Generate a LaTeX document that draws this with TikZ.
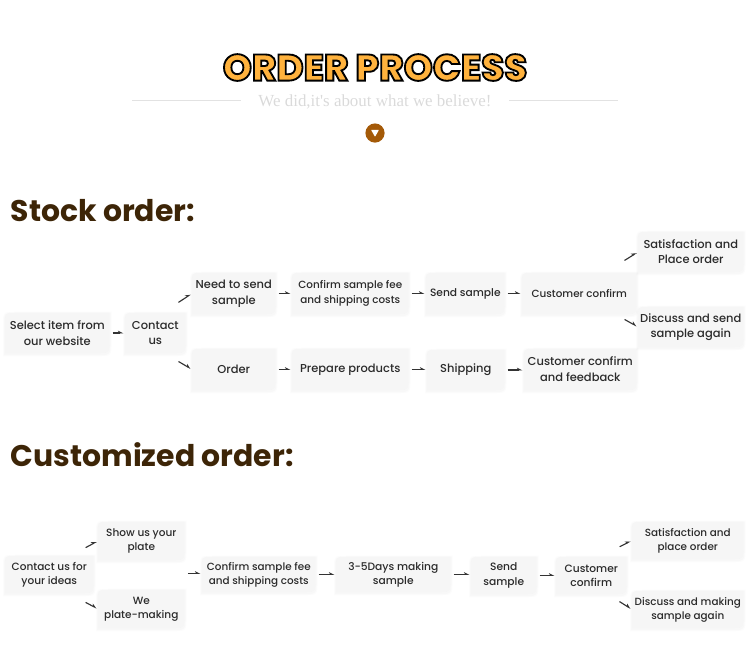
\documentclass[tikz,border=0pt]{standalone}
\usepackage{fontspec}
\usetikzlibrary{arrows.meta,backgrounds,calc}
\setmainfont{Poppins}
\newfontfamily\labfont{Poppins Medium}
\newfontfamily\headfont{Poppins}[BoldFont=Poppins Bold]
\newfontfamily\titlefont{Poppins ExtraBold}[FakeBold=5]
\newfontfamily\subfont{Liberation Serif}
\definecolor{boxfill}{HTML}{F6F6F6}
\definecolor{heading}{HTML}{3D2507}
\definecolor{dotbrown}{HTML}{A45A08}
\definecolor{rulegrey}{HTML}{E2E2E2}
\definecolor{subgrey}{HTML}{DADADA}
\definecolor{lab}{HTML}{2B2B2B}
\definecolor{arrowc}{HTML}{333333}
\tikzset{
  x=0.75pt,y=-0.75pt,
  conn/.style={draw=arrowc,line width=0.85pt,shorten <=2.2pt,shorten >=1.2pt,-{Stealth[harpoon,length=3.6pt,width=3.6pt]}},
  lab/.style={inner sep=0pt,text=lab,align=center},
  headtxt/.style={inner sep=0pt,anchor=base west,text=heading,font=\headfont\bfseries\fontsize{22.4pt}{28pt}\selectfont},
  rule/.style={draw=rulegrey,line width=1pt}
}
% rounded-corner box outline, grown by o and moved by d
\newcommand{\bshape}[3]{($(#1.north east)+(#2,-#2+#3)$) -- ($(#1.south east)+(#2,-13+#3)$) .. controls ($(#1.south east)+(#2,#2+#3)$) .. ($(#1.south east)+(-13,#2+#3)$) -- ($(#1.south west)+(-#2,#2+#3)$) -- ($(#1.north west)+(-#2,11+#3)$) .. controls ($(#1.north west)+(-#2,-#2+#3)$) .. ($(#1.north west)+(11,-#2+#3)$) -- cycle}
% name, x1,y1,x2,y2, size(pt), leading(pt), text
\newcommand{\bx}[8]{%
  \pgfmathsetmacro{\bw}{(#4-#2)*0.75}\pgfmathsetmacro{\bh}{(#5-#3)*0.75}%
  \node[lab,minimum width=\bw pt,minimum height=\bh pt,font=\labfont\fontsize{#6pt}{#7pt}\selectfont] (#1) at ({(#2+#4)/2+0.3},{(#3+#5)/2}) {#8};%
  \begin{scope}[on background layer]
    \fill[black,opacity=0.012] \bshape{#1}{2}{1};
    \fill[black,opacity=0.015] \bshape{#1}{1}{1};
    \fill[boxfill] \bshape{#1}{0}{0};
  \end{scope}%
}
\newcommand{\hc}[2]{\draw[conn] (#1.east) -- (#1.east -| #2.west);}
\begin{document}
\begin{tikzpicture}
\useasboundingbox (0,0) rectangle (750,669);
% header
\node[inner sep=0pt,font=\titlefont\fontsize{27.8pt}{30pt}\selectfont] (title) at (375,67.5) {\special{pdf:bcolor [1 0.70 0.24] [0 0 0]}ORDER PROCESS\special{pdf:ecolor}};
\node[inner sep=0pt,text=subgrey,font=\subfont\fontsize{12.7pt}{16pt}\selectfont] (sub) at (375,101.5) {We did,it's about what we believe!};
\coordinate (ruleA) at (132,100.5);\coordinate (ruleB) at (241,100.5);
\coordinate (ruleC) at (509,100.5);\coordinate (ruleD) at (618,100.5);
\draw[rule] (ruleA) -- (ruleB);
\draw[rule] (ruleC) -- (ruleD);
\node[circle,fill=dotbrown,minimum size=14.4pt,inner sep=0pt] (dot) at (375,133) {};
\fill[white,rounded corners=0.4pt] ($(dot)+(-4,-3.2)$) -- ($(dot)+(4,-3.2)$) -- ($(dot)+(0,3.8)$) -- cycle;
% headings
\node[headtxt] (stock) at (10.5,221) {Stock order:};
\node[headtxt] (custom) at (10.5,466) {Customized order:};
% stock boxes
\bx{select}{5}{313}{109}{353}{8.6}{11.8}{Select item from\\our website}
\bx{contact}{125}{313}{185}{353}{8.6}{11.6}{Contact\\us}
\bx{need}{192}{273}{275}{314}{8.6}{12}{Need to send\\sample}
\bx{order}{192}{349}{275}{390}{8.6}{11.6}{Order}
\bx{confirmA}{292}{273}{408}{314}{7.8}{11.4}{Confirm sample fee\\and shipping costs}
\bx{prepare}{292}{349}{408}{390}{8.6}{11.6}{Prepare products}
\bx{sendA}{426}{273}{504}{314}{8}{11.4}{Send sample}
\bx{shipping}{427}{350}{504}{390}{8.6}{11.6}{Shipping}
\bx{custA}{522}{273}{636}{314}{7.8}{11.4}{Customer confirm}
\bx{custB}{524}{349}{636}{390}{8.6}{12}{Customer confirm\\and feedback}
\bx{satA}{638}{232}{743}{272}{8.6}{11.4}{Satisfaction and\\Place order}
\bx{discA}{638}{307}{743}{347}{8.6}{11.4}{Discuss and send\\sample again}
% customized boxes
\bx{contactB}{5}{556}{93}{593}{7.9}{10.6}{Contact us for\\your ideas}
\bx{show}{98}{522}{184}{560}{7.9}{10.6}{Show us your\\plate}
\bx{we}{98}{590}{184}{628}{7.9}{10.6}{We\\plate-making}
\bx{confirmB}{202}{557}{315}{592}{7.8}{10.6}{Confirm sample fee\\and shipping costs}
\bx{days}{336}{557}{450}{592}{8}{10.6}{3-5Days making\\sample}
\bx{sendB}{471}{557}{536}{594}{8}{10.6}{Send\\sample}
\bx{custC}{556}{557}{626}{594}{8}{10.6}{Customer\\confirm}
\bx{satB}{632}{522}{743}{559}{7.8}{10.6}{Satisfaction and\\place order}
\bx{discB}{632}{591}{743}{628}{7.8}{10.6}{Discuss and making\\sample again}
% stock connectors
\hc{select}{contact}
\hc{need}{confirmA}
\hc{confirmA}{sendA}
\hc{sendA}{custA}
\hc{order}{prepare}
\hc{prepare}{shipping}
\hc{shipping}{custB}
\coordinate (t1) at (176,304);\coordinate (t2) at (176,360);
\coordinate (t3) at (622,262);\coordinate (t4) at (622,318);
\draw[conn] (t1) -- (need.west);
\draw[conn] (t2) -- (order.west);
\draw[conn] (t3) -- (satA.west);
\draw[conn] (t4) -- (discA.west);
% customized connectors
\coordinate (t5) at (83,549);\coordinate (t6) at (83,601);
\coordinate (t7) at (617,548);\coordinate (t8) at (617,600);
\coordinate (t9) at (185,573.5);
\draw[conn] (t5) -- (show.west);
\draw[conn] (t6) -- (we.west);
\draw[conn] (t7) -- (satB.west);
\draw[conn] (t8) -- (discB.west);
\draw[conn] (t9) -- (t9 -| confirmB.west);
\hc{confirmB}{days}
\hc{days}{sendB}
\hc{sendB}{custC}
\end{tikzpicture}
\end{document}
